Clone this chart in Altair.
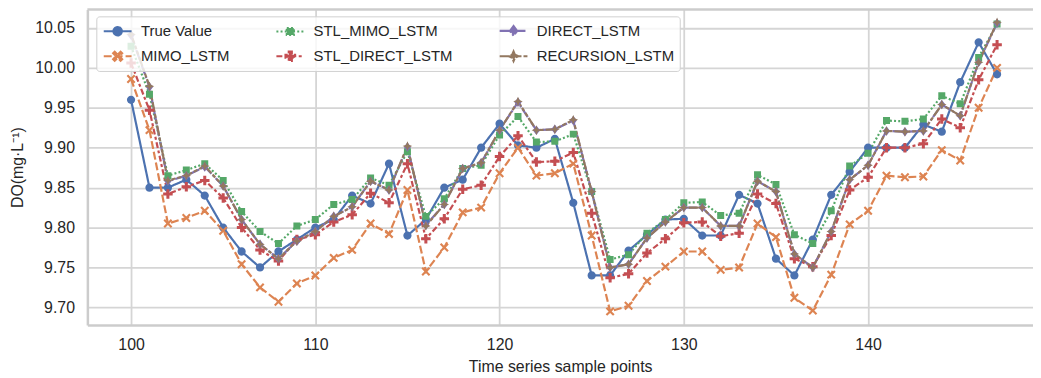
import altair as alt
import pandas as pd

# ---------------- data ----------------
sample_points = list(range(100, 148))

true_value = [9.960, 9.850, 9.850, 9.860, 9.840, 9.800, 9.770, 9.750, 9.770, 9.785,
              9.800, 9.810, 9.840, 9.830, 9.880, 9.790, 9.810, 9.850, 9.860, 9.900,
              9.930, 9.903, 9.900, 9.911, 9.831, 9.740, 9.740, 9.771, 9.791, 9.810,
              9.811, 9.790, 9.790, 9.841, 9.830, 9.761, 9.740, 9.785, 9.841, 9.870,
              9.900, 9.900, 9.900, 9.929, 9.920, 9.982, 10.032, 9.992]

mimo_lstm = [9.986, 9.922, 9.805, 9.812, 9.821, 9.796, 9.754, 9.725, 9.707, 9.730,
             9.740, 9.762, 9.772, 9.805, 9.792, 9.847, 9.745, 9.775, 9.819, 9.825,
             9.868, 9.900, 9.865, 9.868, 9.880, 9.790, 9.695, 9.702, 9.733, 9.751,
             9.770, 9.770, 9.747, 9.750, 9.805, 9.788, 9.712, 9.696, 9.741, 9.804,
             9.821, 9.865, 9.863, 9.864, 9.897, 9.884, 9.950, 10.000]

stl_mimo_lstm = [10.027, 9.967, 9.865, 9.872, 9.880, 9.859, 9.820, 9.795, 9.780, 9.802,
                 9.810, 9.829, 9.835, 9.862, 9.853, 9.895, 9.814, 9.836, 9.874, 9.878,
                 9.916, 9.939, 9.907, 9.908, 9.917, 9.845, 9.760, 9.766, 9.793, 9.810,
                 9.831, 9.832, 9.815, 9.818, 9.866, 9.854, 9.791, 9.780, 9.821, 9.877,
                 9.893, 9.934, 9.933, 9.936, 9.965, 9.955, 10.013, 10.055]

stl_direct_lstm = [10.006, 9.947, 9.842, 9.851, 9.859, 9.837, 9.800, 9.772, 9.758, 9.785,
                   9.791, 9.807, 9.816, 9.843, 9.831, 9.880, 9.786, 9.811, 9.848, 9.853,
                   9.889, 9.915, 9.882, 9.883, 9.894, 9.818, 9.737, 9.742, 9.768, 9.786,
                   9.806, 9.807, 9.789, 9.793, 9.842, 9.830, 9.761, 9.751, 9.790, 9.847,
                   9.863, 9.900, 9.900, 9.905, 9.936, 9.925, 9.985, 10.029]

direct_lstm = [10.041, 9.976, 9.858, 9.865, 9.876, 9.852, 9.810, 9.779, 9.761, 9.783,
               9.795, 9.814, 9.826, 9.858, 9.847, 9.901, 9.803, 9.829, 9.874, 9.881,
               9.922, 9.957, 9.922, 9.923, 9.934, 9.845, 9.750, 9.754, 9.787, 9.807,
               9.825, 9.825, 9.802, 9.802, 9.858, 9.845, 9.767, 9.750, 9.795, 9.860,
               9.878, 9.921, 9.920, 9.921, 9.954, 9.940, 10.007, 10.056]

recursion_lstm = [10.042, 9.977, 9.859, 9.865, 9.877, 9.852, 9.810, 9.779, 9.761, 9.783,
                  9.795, 9.814, 9.826, 9.858, 9.847, 9.902, 9.802, 9.829, 9.874, 9.881,
                  9.922, 9.958, 9.922, 9.923, 9.935, 9.845, 9.750, 9.754, 9.787, 9.807,
                  9.825, 9.825, 9.802, 9.802, 9.858, 9.845, 9.767, 9.750, 9.795, 9.860,
                  9.878, 9.921, 9.920, 9.921, 9.954, 9.940, 10.007, 10.057]

series_names = ["True Value", "MIMO_LSTM", "STL_MIMO_LSTM",
                "STL_DIRECT_LSTM", "DIRECT_LSTM", "RECURSION_LSTM"]
series_values = [true_value, mimo_lstm, stl_mimo_lstm,
                 stl_direct_lstm, direct_lstm, recursion_lstm]

x_ticks = [100, 110, 120, 130, 140]
y_ticks = [9.70, 9.75, 9.80, 9.85, 9.90, 9.95, 10.00, 10.05]

# ---------------- styling ----------------
colors = ["#4C72B0", "#DD8452", "#55A868", "#C44E52", "#8172B3", "#937860"]
dashes = [[1, 0], [8, 3], [2, 2.2], [6, 2.5, 3, 2.5], [10, 2, 2, 2], [10, 2, 4, 2, 4, 2]]

# custom marker paths, drawn at sqrt(256)/2 = 8 px per unit.
# the leading horizontal segment is only stroked in the legend (handle line)
ext = "M-1.75,0L1.75,0"
circle = ext + "M0.52,0A0.52,0.52 0 1,1 -0.52,0A0.52,0.52 0 1,1 0.52,0Z"
square = ext + "M-0.44,-0.44H0.44V0.44H-0.44Z"
diamond = ext + "M0,-0.6L0.45,0L0,0.6L-0.45,0Z"
xmark = ext + ("M0,-0.19L0.37,-0.56L0.56,-0.37L0.19,0L0.56,0.37L0.37,0.56"
               "L0,0.19L-0.37,0.56L-0.56,0.37L-0.19,0L-0.56,-0.37L-0.37,-0.56Z")
plusmark = ext + ("M-0.19,-0.6H0.19V-0.19H0.6V0.19H0.19V0.6H-0.19V0.19"
                  "H-0.6V-0.19H-0.19Z")
star4 = ext + ("M0,-0.6L0.18,-0.18L0.6,0L0.18,0.18L0,0.6L-0.18,0.18L-0.6,0L-0.18,-0.18Z")
shapes = [circle, xmark, square, plusmark, diamond, star4]

FONT = "Liberation Sans, Arial, sans-serif"
TXT = "#262626"
GRID = "#d5d5d5"
FRAME = "#cccccc"

rows = []
for name, vals in zip(series_names, series_values):
    for t, v in zip(sample_points, vals):
        rows.append({"t": t, "value": v, "series": name})
df = pd.DataFrame(rows)

x_enc = alt.X("t:Q", scale=alt.Scale(domain=[97.63, 148.95], nice=False, zero=False),
              axis=alt.Axis(values=x_ticks, format="d", title="Time series sample points",
                            ticks=False, labelPadding=12, titlePadding=6,
                            grid=True, gridColor=GRID, gridWidth=1.8,
                            domainColor=FRAME, domainWidth=2.5))
y_enc = alt.Y("value:Q", scale=alt.Scale(domain=[9.678, 10.0732], nice=False, zero=False),
              axis=alt.Axis(values=y_ticks, format=".2f", title="DO(mg·L⁻¹)",
                            ticks=False, labelPadding=13, titlePadding=9,
                            grid=True, gridColor=GRID, gridWidth=1.8,
                            domainColor=FRAME, domainWidth=2.5))

legend = alt.Legend(
    orient="none", legendX=9, legendY=7, columns=3, title=None,
    labelFont=FONT, labelFontSize=15, labelColor=TXT, labelLimit=400,
    symbolSize=256, symbolStrokeWidth=2.2, symbolOpacity=1, symbolOffset=7,
    labelOffset=14, columnPadding=42, rowPadding=6.7, padding=5,
    fillColor="rgba(255,255,255,0.8)", strokeColor="#d0d0d0", cornerRadius=3,
    zindex=1,
)

stroke_enc = alt.Stroke("series:N", scale=alt.Scale(domain=series_names, range=colors),
                        legend=legend)
dash_enc = alt.StrokeDash("series:N", scale=alt.Scale(domain=series_names, range=dashes),
                          legend=legend)

lines = alt.Chart(df).mark_line(strokeWidth=2.2).encode(
    x=x_enc, y=y_enc, stroke=stroke_enc, strokeDash=dash_enc,
)

points = alt.Chart(df).mark_point(filled=True, size=256, opacity=1, strokeWidth=0).encode(
    x=x_enc, y=y_enc,
    color=alt.Color("series:N", scale=alt.Scale(domain=series_names, range=colors),
                    legend=legend),
    stroke=stroke_enc,
    strokeDash=dash_enc,
    shape=alt.Shape("series:N", scale=alt.Scale(domain=series_names, range=shapes),
                    legend=legend),
)

# top spine of the frame
top_frame = alt.Chart(pd.DataFrame({"k": [0]})).mark_rule(
    color=FRAME, strokeWidth=2.5).encode(y=alt.value(0))

chart = alt.layer(lines, points, top_frame).properties(
    width=953, height=318, background="white",
    autosize=alt.AutoSizeParams(type="none"),
    padding={"left": 80, "top": 0, "right": 0, "bottom": 48},
).configure_view(stroke=None).configure_axis(
    labelFont=FONT, titleFont=FONT, labelFontSize=16, titleFontSize=16,
    labelColor=TXT, titleColor=TXT, titleFontWeight="normal",
)

chart.save("out.html", embed_options={"renderer": "svg", "actions": False})
